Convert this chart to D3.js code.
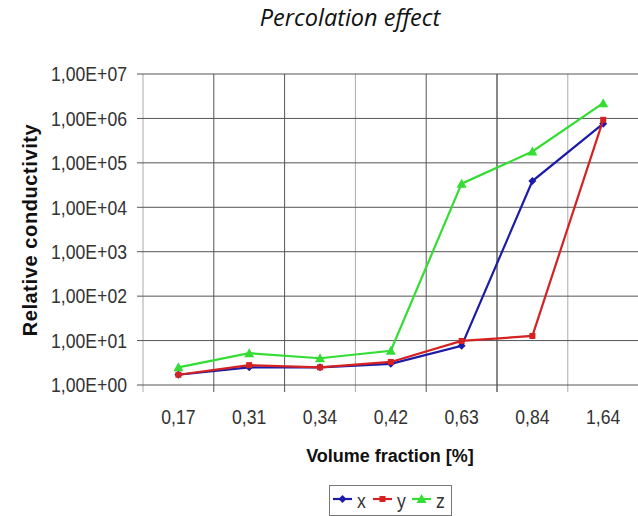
<!DOCTYPE html>
<html><head><meta charset="utf-8">
<script src="https://cdn.jsdelivr.net/npm/d3@7"></script>
<style>body{margin:0;background:#fff}svg{display:block}</style>
</head><body>
<script>
const categories = ["0,17","0,31","0,34","0,42","0,63","0,84","1,64"];
const xValues = [1.7, 2.5, 2.5, 3.0, 7.6, 39000, 760000];
const yValues = [1.7, 2.8, 2.5, 3.3, 9.8, 12.7, 930000];
const zValues = [2.5, 5.2, 4.0, 5.9, 34000, 180000, 2200000];
const yTicks = [1,10,100,1e3,1e4,1e5,1e6,1e7];
const yTickLabels = ["1,00E+00","1,00E+01","1,00E+02","1,00E+03","1,00E+04","1,00E+05","1,00E+06","1,00E+07"];
const seriesNames = ["x","y","z"];
const seriesColors = ["#1c1ca8","#d42222","#33dd33"];

const W=638,H=516;
const svg=d3.select("body").append("svg").attr("width",W).attr("height",H);
const L=143,R=638.6,T=74,B=385;
const x=d3.scaleBand().domain(categories).range([L,R]);
const y=d3.scaleLog().domain([1,1e7]).range([B,T]);
const sans="'Liberation Sans',Arial,sans-serif";
const SX=0.84;

svg.append("text").attr("x",350).attr("y",26).attr("text-anchor","middle")
 .attr("font-family","'Open Sans',sans-serif").attr("font-style","italic").attr("font-size",23.5).attr("fill","#111").text("Percolation effect");

// vertical gridlines
const vCols=["#aaa","#555","#555","#aaa","#555","#111","#aaa"];
categories.forEach((c,i)=>{
  const xx=x(c);
  svg.append("line").attr("x1",xx).attr("x2",xx).attr("y1",T).attr("y2",B+7).attr("stroke",vCols[i]).attr("stroke-width",1);
});
// horizontal gridlines
yTicks.forEach(t=>{
  svg.append("line").attr("x1",L-6).attr("x2",W).attr("y1",y(t)).attr("y2",y(t)).attr("stroke","#555").attr("stroke-width",1);
});
// y labels
const yAxis=d3.axisLeft(y).tickValues(yTicks).tickFormat((d,i)=>yTickLabels[i]).tickSize(0).tickPadding(16/SX);
const ga=svg.append("g").attr("transform",`translate(${L},0)`).call(yAxis);
ga.select(".domain").remove();
ga.selectAll("text").attr("font-family",sans).attr("font-size",21).attr("fill","#333").attr("transform",`scale(${SX},1)`);
// x labels
const xAxis=d3.axisBottom(x).tickSize(0).tickPadding(24);
const gx=svg.append("g").attr("transform",`translate(0,${B})`).call(xAxis);
gx.select(".domain").remove();
gx.selectAll("text").attr("font-family",sans).attr("font-size",21).attr("fill","#333").attr("transform",`scale(${SX},1)`);

svg.append("text").attr("transform","translate(37,230) rotate(-90)").attr("text-anchor","middle")
 .attr("font-family",sans).attr("font-weight","bold").attr("font-size",20).attr("letter-spacing",0.6).attr("fill","#111").text("Relative conductivity");
svg.append("text").attr("x",390).attr("y",462).attr("text-anchor","middle")
 .attr("font-family",sans).attr("font-weight","bold").attr("font-size",18).attr("fill","#111").text("Volume fraction [%]");

const series=[xValues,yValues,zValues];
const line=d3.line().x((d,i)=>x(categories[i])+x.bandwidth()/2).y(d=>y(d));
function marker(g,k,cx,cy){
  const c=seriesColors[k];
  if(k===0) g.append("path").attr("d",`M${cx},${cy-4}L${cx+4},${cy}L${cx},${cy+4}L${cx-4},${cy}Z`).attr("fill",c);
  else if(k===1) g.append("rect").attr("x",cx-3).attr("y",cy-3).attr("width",6).attr("height",6).attr("fill",c);
  else g.append("path").attr("d",`M${cx},${cy-5}L${cx+5},${cy+4}L${cx-5},${cy+4}Z`).attr("fill",c);
}
[2,0,1].forEach(k=>{
  const g=svg.append("g");
  g.append("path").datum(series[k]).attr("d",line).attr("fill","none").attr("stroke",seriesColors[k]).attr("stroke-width",2.2);
  series[k].forEach((v,i)=>marker(g,k,x(categories[i])+x.bandwidth()/2,y(v)));
});

// legend
svg.append("rect").attr("x",329.5).attr("y",485.5).attr("width",122).attr("height",30).attr("fill","#fff").attr("stroke","#777");
const lx=[333,373,412];
seriesNames.forEach((n,k)=>{
  const g=svg.append("g");
  g.append("line").attr("x1",lx[k]).attr("x2",lx[k]+19).attr("y1",499).attr("y2",499).attr("stroke",seriesColors[k]).attr("stroke-width",2.2);
  marker(g,k,lx[k]+9.5,499);
  g.append("text").attr("transform",`translate(${lx[k]+24},508) scale(${SX},1)`).attr("font-family",sans).attr("font-size",21).attr("fill","#333").text(n);
});
</script>
</body></html>
